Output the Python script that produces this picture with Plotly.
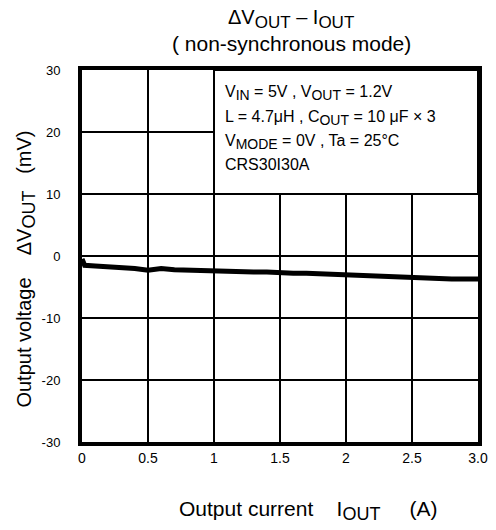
import plotly.graph_objects as go

# Data
iout = [0, 0.02, 0.1, 0.2, 0.3, 0.4, 0.5, 0.6, 0.7, 0.8, 0.9, 1.0, 1.1, 1.2, 1.3, 1.4,
        1.5, 1.6, 1.7, 1.8, 1.9, 2.0, 2.1, 2.2, 2.3, 2.4, 2.5, 2.6, 2.7, 2.8, 2.9, 3.0]
dvout = [-0.5, -1.5, -1.6, -1.7, -1.9, -2.0, -2.3, -2.0, -2.2, -2.3, -2.4, -2.5, -2.6, -2.6,
         -2.6, -2.6, -2.8, -2.8, -2.8, -2.9, -3.0, -3.0, -3.1, -3.1, -3.3, -3.4, -3.4, -3.5,
         -3.7, -3.7, -3.7, -3.7]

x_tickvals = [0, 0.5, 1, 1.5, 2, 2.5, 3]
x_ticktext = ["0", "0.5", "1", "1.5", "2", "2.5", "3.0"]
y_tickvals = [-30, -20, -10, 0, 10, 20, 30]
y_ticktext = ["-30", "-20", "-10", "0", "10", "20", "30"]


def sub(t, px):
    return "<sub><span style='font-size:%dpx'>%s</span></sub>" % (px, t)


NB = "\u00a0"
cond_lines = [
    "V" + sub("IN", 14) + " = 5V , V" + sub("OUT", 14) + " = 1.2V",
    "L = 4.7\u03bcH , C" + sub("OUT", 14) + " = 10 \u03bcF \u00d7 3",
    "V" + sub("MODE", 14) + " = 0V , Ta = 25\u00b0C",
    "CRS30I30A",
]
cond_y = [26.3, 22.3, 18.4, 14.7]

FONT = "Liberation Sans, Arial, sans-serif"

fig = go.Figure()
fig.add_trace(go.Scatter(x=iout, y=dvout, mode="lines",
                         line=dict(color="black", width=5), showlegend=False))

fig.update_layout(
    width=496, height=530,
    margin=dict(l=82, r=18, t=70, b=88),
    paper_bgcolor="white", plot_bgcolor="white",
    font=dict(family=FONT, color="black", size=12),
    xaxis=dict(range=[0, 3], tickvals=x_tickvals, ticktext=x_ticktext,
               showgrid=True, gridcolor="black", gridwidth=2,
               showline=True, linecolor="black", linewidth=4, mirror=True,
               zeroline=False, ticks="", tickfont=dict(size=14), automargin=False),
    yaxis=dict(range=[-30, 30], tickvals=y_tickvals, ticktext=y_ticktext,
               showgrid=True, gridcolor="black", gridwidth=2,
               showline=True, linecolor="black", linewidth=4, mirror=True,
               zeroline=False, ticks="", ticklabelstandoff=15, tickfont=dict(size=13),
               automargin=False),
    shapes=[dict(type="rect", xref="x", yref="y", x0=1, x1=3, y0=10, y1=30,
                 fillcolor="white", line=dict(color="black", width=2), layer="above")],
)

annotations = [
    dict(text="\u0394V" + sub("OUT", 17) + " \u2013 I" + sub("OUT", 17), xref="paper", yref="paper",
         x=0.528, y=1.138, xanchor="center", yanchor="middle", showarrow=False,
         font=dict(size=20)),
    dict(text="( non-synchronous mode)", xref="paper", yref="paper",
         x=0.528, y=1.072, xanchor="center", yanchor="middle", showarrow=False,
         font=dict(size=21)),
    dict(text="Output current" + (" " + NB) * 2 + "I" + sub("OUT", 18) + (" " + NB) * 2 + " (A)",
         xref="paper", yref="paper",
         x=0.572, y=-0.183, xanchor="center", yanchor="middle", showarrow=False,
         font=dict(size=21)),
    dict(text="Output voltage" + (" " + NB) * 2 + "\u0394V" + sub("OUT", 18) + " " + NB + " (mV)",
         xref="paper", yref="paper",
         x=-0.141, y=0.464, xanchor="center", yanchor="middle", showarrow=False,
         textangle=-90, font=dict(size=20)),
]
for txt, yy in zip(cond_lines, cond_y):
    annotations.append(dict(text=txt, xref="x", yref="y", x=1.068, y=yy,
                            xanchor="left", yanchor="middle", showarrow=False,
                            font=dict(size=16)))
fig.update_layout(annotations=annotations)

fig.write_html("out.html", config={"displayModeBar": False},
               post_script="document.body.style.margin='0px';document.body.style.overflow='hidden';")
